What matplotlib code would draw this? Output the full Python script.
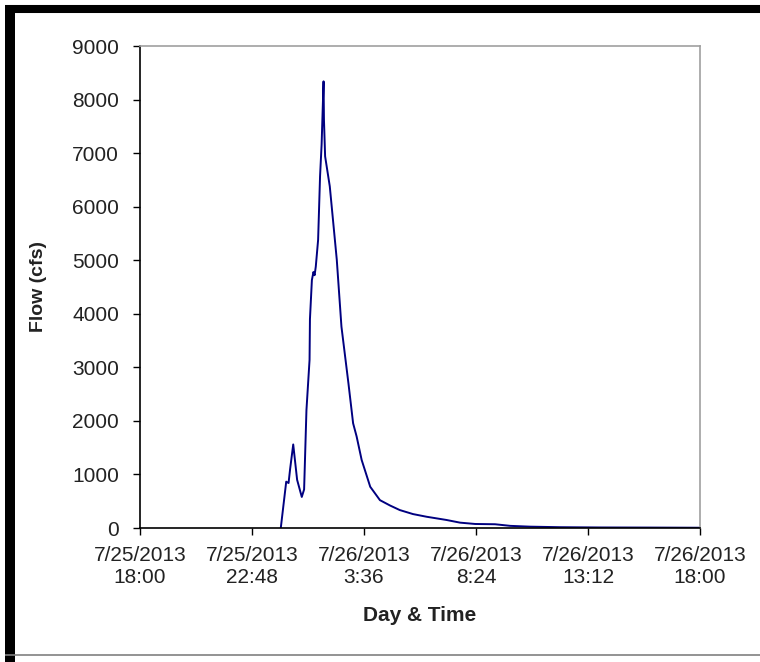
import matplotlib
matplotlib.use("Agg")
import matplotlib.pyplot as plt
import matplotlib.dates as mdates
from matplotlib.lines import Line2D
import pandas as pd

plt.rcParams["font.family"] = ["Liberation Sans", "DejaVu Sans"]

# hydrograph readings (time, flow in cfs)
times = [
    "2013-07-26 00:02", "2013-07-26 00:16", "2013-07-26 00:22", "2013-07-26 00:26",
    "2013-07-26 00:34", "2013-07-26 00:44", "2013-07-26 00:56", "2013-07-26 01:02",
    "2013-07-26 01:08", "2013-07-26 01:16", "2013-07-26 01:17", "2013-07-26 01:22",
    "2013-07-26 01:26", "2013-07-26 01:29", "2013-07-26 01:32", "2013-07-26 01:38",
    "2013-07-26 01:43", "2013-07-26 01:47", "2013-07-26 01:52", "2013-07-26 01:53",
    "2013-07-26 01:56", "2013-07-26 02:08", "2013-07-26 02:26", "2013-07-26 02:38",
    "2013-07-26 02:56", "2013-07-26 03:08", "2013-07-26 03:17", "2013-07-26 03:30",
    "2013-07-26 03:52", "2013-07-26 04:17", "2013-07-26 04:43", "2013-07-26 05:08",
    "2013-07-26 05:42", "2013-07-26 06:17", "2013-07-26 07:08", "2013-07-26 07:43",
    "2013-07-26 08:22", "2013-07-26 09:13", "2013-07-26 09:52", "2013-07-26 10:43",
    "2013-07-26 12:00", "2013-07-26 13:43", "2013-07-26 15:52", "2013-07-26 18:00",
]
flow = [
    0, 865, 840, 1100,
    1560, 900, 580, 720,
    2200, 3140, 3900, 4630,
    4780, 4720, 4880, 5380,
    6570, 7160, 8340, 7630,
    6940, 6380, 5010, 3760,
    2700, 1955, 1710, 1270,
    770, 520, 420, 335,
    260, 210, 150, 100,
    75, 70, 40, 25,
    15, 10, 8, 5,
]

tick_times = ["2013-07-25 18:00", "2013-07-25 22:48", "2013-07-26 03:36",
              "2013-07-26 08:24", "2013-07-26 13:12", "2013-07-26 18:00"]
tick_labels = ["7/25/2013\n18:00", "7/25/2013\n22:48", "7/26/2013\n3:36",
               "7/26/2013\n8:24", "7/26/2013\n13:12", "7/26/2013\n18:00"]
y_ticks = [0, 1000, 2000, 3000, 4000, 5000, 6000, 7000, 8000, 9000]

t = pd.to_datetime(times)
tick_t = mdates.date2num(pd.to_datetime(tick_times).to_pydatetime())

fig = plt.figure(figsize=(7.6, 6.62), dpi=100)
ax = fig.add_axes([140 / 760, 1 - 528 / 662, 560 / 760, 482 / 662])

ax.plot(mdates.date2num(t.to_pydatetime()), flow, color="#000080", lw=1.4)

ax.set_xlim(tick_t[0], tick_t[-1])
ax.set_ylim(0, 9000)
ax.set_xticks(tick_t)
ax.set_xticklabels(tick_labels)
ax.set_yticks(y_ticks)
ax.set_yticklabels([str(v) for v in y_ticks])

ax.tick_params(axis="both", direction="out", length=5, width=1, color="black",
               labelsize=15, labelcolor="#222222")
ax.tick_params(axis="y", pad=10)
ax.tick_params(axis="x", pad=8)

for side in ["left", "bottom"]:
    ax.spines[side].set_color("black")
    ax.spines[side].set_linewidth(1.2)
for side in ["top", "right"]:
    ax.spines[side].set_color("#a0a0a0")
    ax.spines[side].set_linewidth(1.2)

ax.set_ylabel("Flow (cfs)", fontsize=14, fontweight="bold", color="#222222")
ax.set_xlabel("Day & Time", fontsize=15, fontweight="bold", color="#222222")
ax.yaxis.set_label_coords(-0.166, 0.5)
ax.xaxis.set_label_coords(0.5, -0.162)

# picture frame around the chart
W, H = 760, 662
fig.add_artist(Line2D([5 / W, 1], [1 - 9 / H, 1 - 9 / H], color="black", lw=5.8,
                      transform=fig.transFigure, solid_capstyle="butt"))
fig.add_artist(Line2D([10 / W, 10 / W], [0, 1 - 5 / H], color="black", lw=7.2,
                      transform=fig.transFigure, solid_capstyle="butt"))
fig.add_artist(Line2D([5 / W, 1], [1 - 655 / H, 1 - 655 / H], color="#808080", lw=1.2,
                      transform=fig.transFigure, solid_capstyle="butt"))

fig.savefig("out.png", dpi=100)
